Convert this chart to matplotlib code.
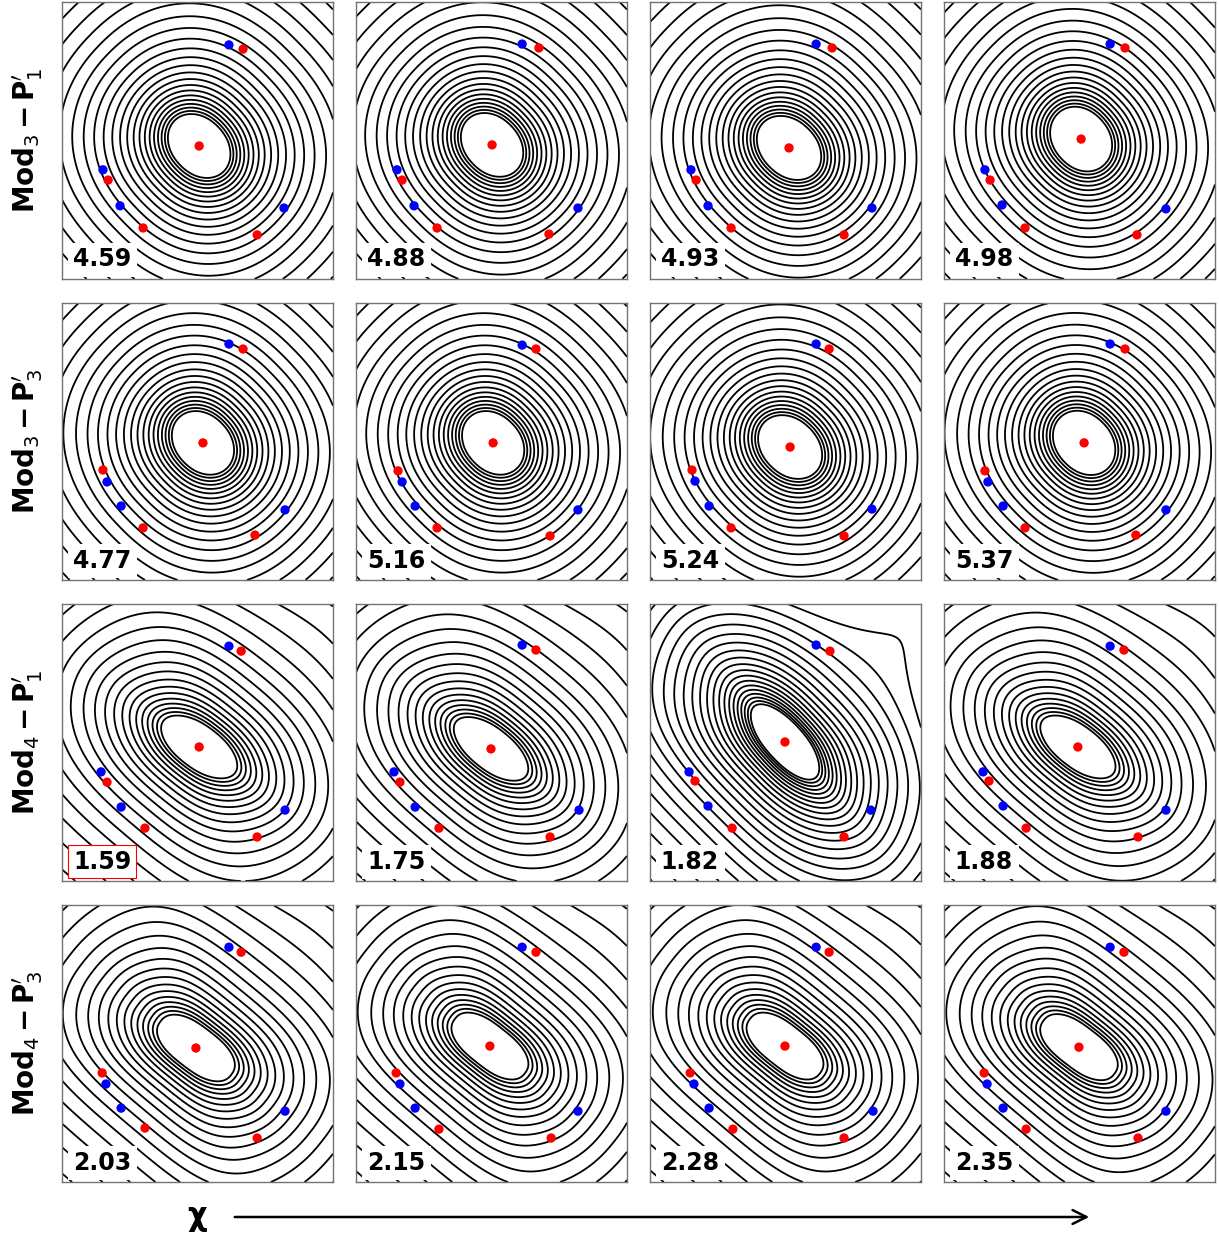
import numpy as np
import matplotlib
matplotlib.use('Agg')
import matplotlib.pyplot as plt
from matplotlib.patches import FancyArrowPatch

# ── panel annotations (row-major: 4 rows x 4 columns) ──────────────────────
row_labels = [r'$\mathbf{Mod}_3\,\mathbf{-}\,\mathbf{P}^{\prime}_1$',
              r'$\mathbf{Mod}_3\,\mathbf{-}\,\mathbf{P}^{\prime}_3$',
              r'$\mathbf{Mod}_4\,\mathbf{-}\,\mathbf{P}^{\prime}_1$',
              r'$\mathbf{Mod}_4\,\mathbf{-}\,\mathbf{P}^{\prime}_3$']
values = ['4.59', '4.88', '4.93', '4.98',
          '4.77', '5.16', '5.24', '5.37',
          '1.59', '1.75', '1.82', '1.88',
          '2.03', '2.15', '2.28', '2.35']
highlight = 8   # panel whose value is boxed in red

# minimum (red centre point) of each panel
centers = [(50.6, 48.0), (50.2, 48.4), (51.3, 47.3), (50.6, 50.5),
           (52.0, 49.5), (50.6, 49.5), (51.7, 48.0), (51.7, 49.5),
           (50.6, 48.4), (49.8, 47.7), (49.8, 50.2), (49.4, 48.4),
           (49.4, 48.4), (49.4, 49.1), (49.8, 49.1), (49.8, 48.7)]

blue_pts = [
    [(61.6, 84.5), (15.1, 39.4), (21.4, 26.4), (81.9, 25.6)],
    [(61.3, 84.8), (15.1, 39.4), (21.4, 26.4), (81.9, 25.6)],
    [(61.3, 84.8), (15.1, 39.4), (21.4, 26.4), (81.9, 25.6)],
    [(61.3, 84.8), (15.1, 39.4), (21.4, 26.7), (81.9, 25.3)],
    [(61.6, 85.2), (16.6, 35.4), (21.8, 26.7), (82.3, 25.3)],
    [(61.3, 84.8), (17.0, 35.4), (21.8, 26.7), (81.9, 25.3)],
    [(61.3, 85.2), (16.6, 35.7), (21.8, 26.7), (81.9, 25.6)],
    [(61.3, 85.2), (16.2, 35.4), (21.8, 26.7), (81.9, 25.3)],
    [(61.6, 84.8), (14.4, 39.4), (21.8, 26.7), (82.3, 25.6)],
    [(61.3, 85.2), (14.0, 39.4), (21.8, 26.7), (82.3, 25.6)],
    [(61.3, 85.2), (14.4, 39.4), (21.4, 27.1), (81.5, 25.6)],
    [(61.3, 84.8), (14.4, 39.4), (21.8, 27.1), (81.9, 25.6)],
    [(61.6, 84.8), (16.2, 35.4), (21.8, 26.7), (82.3, 25.6)],
    [(61.3, 84.8), (16.2, 35.4), (21.8, 26.7), (81.9, 25.6)],
    [(61.3, 84.8), (16.2, 35.4), (21.8, 26.7), (82.3, 25.6)],
    [(61.3, 84.8), (15.9, 35.4), (21.8, 26.7), (81.9, 25.6)],
]
red_pts = [
    [(66.8, 83.0), (17.0, 35.7), (29.9, 18.4), (72.0, 15.9)],
    [(67.5, 83.4), (17.0, 35.7), (29.9, 18.4), (71.2, 16.2)],
    [(67.2, 83.4), (17.0, 35.7), (29.9, 18.4), (71.6, 15.9)],
    [(66.8, 83.4), (17.0, 35.7), (29.9, 18.4), (71.2, 15.9)],
    [(66.8, 83.4), (15.1, 39.7), (29.9, 18.8), (71.2, 16.2)],
    [(66.4, 83.4), (15.5, 39.4), (29.9, 18.8), (71.6, 15.9)],
    [(66.1, 83.4), (15.5, 39.7), (29.9, 18.8), (71.6, 15.9)],
    [(66.8, 83.4), (15.1, 39.4), (29.9, 18.8), (70.8, 16.2)],
    [(66.1, 83.0), (16.6, 35.7), (30.6, 19.1), (72.0, 15.9)],
    [(66.4, 83.4), (16.2, 35.7), (30.6, 19.1), (71.6, 15.9)],
    [(66.4, 83.0), (16.6, 36.1), (30.3, 19.1), (71.6, 15.9)],
    [(66.4, 83.4), (16.6, 36.1), (30.3, 19.1), (71.6, 15.9)],
    [(66.1, 83.0), (14.8, 39.4), (30.6, 19.5), (72.0, 15.9)],
    [(66.4, 83.0), (14.8, 39.4), (30.6, 19.1), (72.0, 15.9)],
    [(66.1, 83.0), (14.8, 39.4), (30.6, 19.1), (71.6, 15.9)],
    [(66.4, 83.0), (14.8, 39.4), (30.3, 19.1), (71.6, 15.9)],
]

# ── well shape per panel: innermost ring (a, b, angle, p) blending into a
#    rounder outer ring shape; rings are spaced geometrically ─────────────
inner_a   = [9.5, 9.5, 9.6, 10.0,   9.6, 9.6, 9.6, 9.8,
             7.6, 7.3, 6.8, 7.3,    7.6, 7.4, 7.4, 7.4]
inner_b   = [14.1, 14.0, 14.6, 13.6,  13.8, 13.8, 14.4, 13.8,
             17.5, 17.5, 18.5, 17.5,  17.5, 17.5, 17.5, 17.5]
inner_ang = [-45, -45, -42, -48,  -45, -45, -42, -46,
             -35, -37, -48, -36,  -36, -37, -37, -36]
inner_p   = [2.0] * 12 + [2.4] * 4
outer_a   = [10.4] * 8 + [8.7, 8.7, 8.0, 8.7] + [8.7] * 4
outer_b   = [11.0] * 8 + [12.0, 12.0, 12.5, 12.0] + [12.0] * 4
outer_ang = [-45] * 8 + [-40, -40, -44, -40] + [-40] * 4
outer_p   = [2.3] * 8 + [2.8] * 4 + [3.5] * 4
blend_r   = [1.3] * 8 + [2.0] * 8
ring_ratio = [1.10] * 8 + [1.12, 1.12, 1.095, 1.12] + [1.12] * 4
# shallow dip beyond the upper-right corner that bends the outer rings
dip_depth = [0.0] * 8 + [0.2, 0.2, 0.7, 0.25] + [0.2] * 4
dip_x, dip_y, dip_w = 112.0, 108.0, 28.0


def shape_radius(dx, dy, a, b, ang, p):
    th = np.deg2rad(ang)
    v = dx * np.cos(th) + dy * np.sin(th)      # along major axis
    u = -dx * np.sin(th) + dy * np.cos(th)     # along minor axis
    return (np.abs(u / a) ** p + np.abs(v / b) ** p) ** (1.0 / p)


xs = np.linspace(0, 100, 401)
X, Y = np.meshgrid(xs, xs)
dip = np.exp(-((X - dip_x) ** 2 + (Y - dip_y) ** 2) / (2 * dip_w ** 2))

fig, axes = plt.subplots(4, 4, figsize=(12.19, 12.34), dpi=100)
fig.subplots_adjust(left=0.0509, right=0.9967, top=0.9984, bottom=0.0421,
                    wspace=0.085, hspace=0.087)

for i, ax in enumerate(axes.flat):
    cx, cy = centers[i]
    dx, dy = X - cx, Y - cy
    r_in = shape_radius(dx, dy, inner_a[i], inner_b[i], inner_ang[i], inner_p[i])
    r_out = shape_radius(dx, dy, outer_a[i], outer_b[i], outer_ang[i], outer_p[i])
    t = r_in ** 2 / (r_in ** 2 + blend_r[i] ** 2)
    r_eff = r_in * (1 - t) + r_out * t
    F = np.log(np.maximum(r_eff, 1e-6)) - dip_depth[i] * dip
    levels = np.arange(0, 40) * np.log(ring_ratio[i])
    ax.contour(X, Y, F, levels=levels, colors='k', linewidths=1.3)

    bx, by = zip(*blue_pts[i])
    rx, ry = zip(*red_pts[i])
    ax.scatter(bx, by, s=45, color='#0000ff', zorder=5, edgecolors='none')
    ax.scatter(rx, ry, s=45, color='#ff0000', zorder=5, edgecolors='none')
    ax.scatter([cx], [cy], s=45, color='#ff0000', zorder=5, edgecolors='none')

    ec = 'red' if i == highlight else 'white'
    ax.text(0.04, 0.045, values[i], transform=ax.transAxes, fontsize=17,
            fontweight='bold', ha='left', va='baseline', zorder=6,
            bbox=dict(boxstyle='square,pad=0.2', fc='white', ec=ec, lw=0.8))

    ax.set_xlim(0, 100)
    ax.set_ylim(0, 100)
    ax.set_xticks([])
    ax.set_yticks([])
    for sp in ax.spines.values():
        sp.set_color('0.45')
        sp.set_linewidth(1.0)

for r, lbl in enumerate(row_labels):
    pos = axes[r, 0].get_position()
    fig.text(0.023, (pos.y0 + pos.y1) / 2, lbl, rotation=90, fontsize=20,
             ha='center', va='center')

y_arr = 1 - 1217 / 1234
fig.text(197 / 1219, y_arr, 'χ', fontsize=22, fontweight='bold',
         ha='center', va='center')
fig.add_artist(FancyArrowPatch((232 / 1219, y_arr), (1092 / 1219, y_arr),
                               transform=fig.transFigure, arrowstyle='->',
                               mutation_scale=25, lw=1.8, color='k'))

fig.savefig('out.png', dpi=100)
